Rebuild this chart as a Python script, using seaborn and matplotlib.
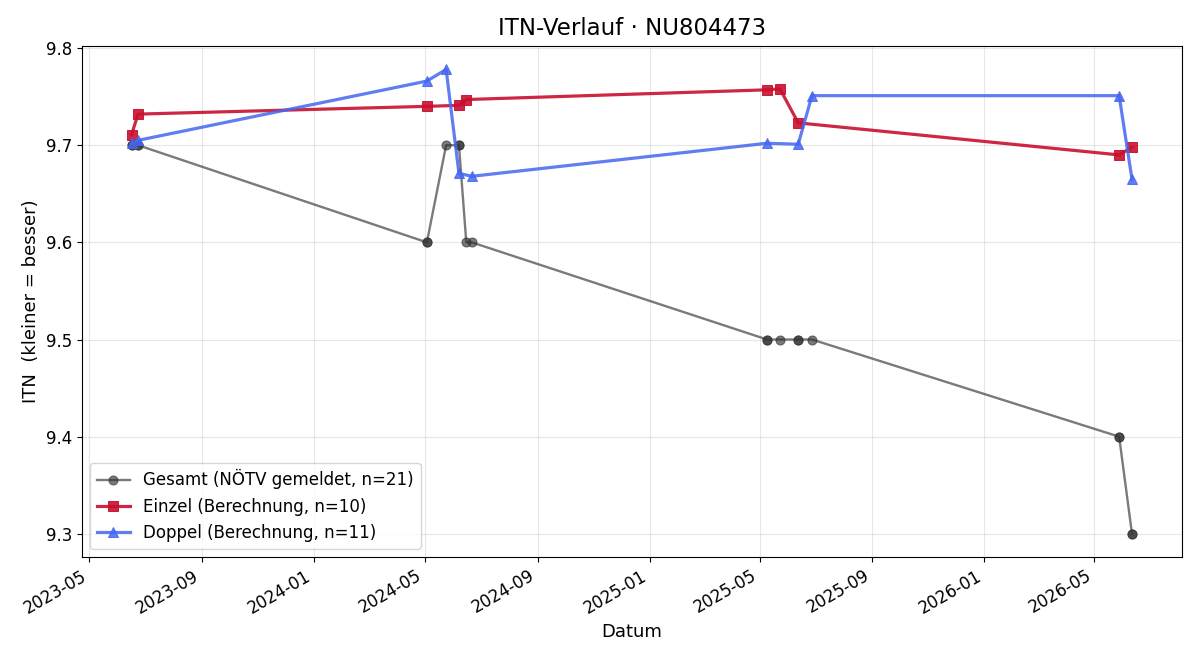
import pandas as pd
import matplotlib
matplotlib.use("Agg")
import matplotlib.pyplot as plt
import matplotlib.dates as mdates
import seaborn as sns

# Data
gesamt_dates = ["2023-06-16", "2023-06-16", "2023-06-23", "2023-06-23",
                "2024-05-03", "2024-05-03", "2024-05-24", "2024-06-07", "2024-06-07",
                "2024-06-15", "2024-06-21",
                "2025-05-09", "2025-05-09", "2025-05-23", "2025-06-12", "2025-06-12",
                "2025-06-27",
                "2026-05-28", "2026-05-28", "2026-06-11", "2026-06-11"]
gesamt_itn = [9.7, 9.7, 9.7, 9.7,
              9.6, 9.6, 9.7, 9.7, 9.7,
              9.6, 9.6,
              9.5, 9.5, 9.5, 9.5, 9.5,
              9.5,
              9.4, 9.4, 9.3, 9.3]

einzel_dates = ["2023-06-16", "2023-06-23", "2024-05-03", "2024-06-07", "2024-06-15",
                "2025-05-09", "2025-05-23", "2025-06-12", "2026-05-28", "2026-06-11"]
einzel_itn = [9.711, 9.732, 9.740, 9.741, 9.747, 9.757, 9.758, 9.723, 9.690, 9.698]

doppel_dates = ["2023-06-16", "2023-06-23", "2024-05-03", "2024-05-24", "2024-06-07",
                "2024-06-21", "2025-05-09", "2025-06-12", "2025-06-27", "2026-05-28",
                "2026-06-11"]
doppel_itn = [9.702, 9.705, 9.766, 9.778, 9.671, 9.668, 9.702, 9.701, 9.751, 9.751, 9.665]

df_g = pd.DataFrame({"Datum": pd.to_datetime(gesamt_dates), "ITN": gesamt_itn})
df_e = pd.DataFrame({"Datum": pd.to_datetime(einzel_dates), "ITN": einzel_itn})
df_d = pd.DataFrame({"Datum": pd.to_datetime(doppel_dates), "ITN": doppel_itn})

fig, ax = plt.subplots(figsize=(12, 6.6), dpi=100)

sns.lineplot(data=df_g, x="Datum", y="ITN", estimator=None, ax=ax,
             color="#333333", alpha=0.65, linewidth=1.7, marker="o", markersize=6.5,
             markeredgecolor="#333333", label="Gesamt (NÖTV gemeldet, n=21)")
sns.lineplot(data=df_e, x="Datum", y="ITN", estimator=None, ax=ax,
             color="#c8102e", alpha=0.9, linewidth=2.3, marker="s", markersize=7.5,
             markeredgecolor="#c8102e", label="Einzel (Berechnung, n=10)")
sns.lineplot(data=df_d, x="Datum", y="ITN", estimator=None, ax=ax,
             color="#4466f0", alpha=0.85, linewidth=2.3, marker="^", markersize=7.5,
             markeredgecolor="#4466f0", label="Doppel (Berechnung, n=11)")

ax.xaxis.set_major_locator(mdates.MonthLocator(bymonth=[1, 5, 9]))
ax.xaxis.set_major_formatter(mdates.DateFormatter("%Y-%m"))
ax.set_title("ITN-Verlauf · NU804473", fontsize=16.5, pad=8)
ax.set_xlabel("Datum", fontsize=13)
ax.set_ylabel("ITN  (kleiner = besser)", fontsize=13)
ax.tick_params(labelsize=12)
ax.grid(True, alpha=0.3)
ax.legend(loc="lower left", fontsize=12)
fig.autofmt_xdate()
fig.subplots_adjust(left=0.068, right=0.985, top=0.93, bottom=0.156)

plt.savefig("out.png")
